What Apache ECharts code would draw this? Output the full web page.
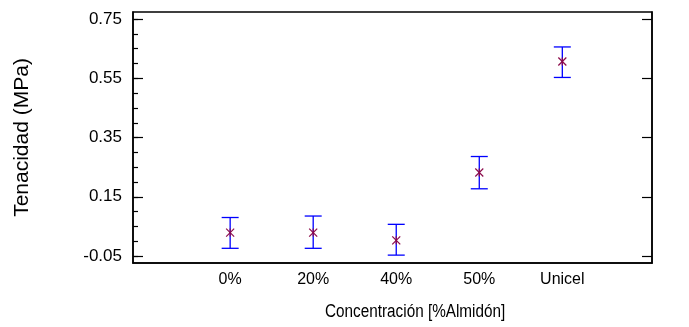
<!DOCTYPE html>
<html>
<head>
<meta charset="utf-8">
<script src="https://cdn.jsdelivr.net/npm/echarts@6/dist/echarts.min.js"></script>
<style>html,body{margin:0;padding:0;background:#fff}#c{width:689px;height:327px}</style>
</head>
<body>
<div id="c"></div>
<script>
var categories = ['0%', '20%', '40%', '50%', 'Unicel'];
var categoryPos = [1, 2, 3, 4, 5];
var means = [0.029, 0.029, 0.003, 0.232, 0.607];
var lower = [-0.024, -0.024, -0.047, 0.177, 0.553];
var upper = [0.080, 0.085, 0.057, 0.286, 0.656];
var yMajorTicks = [-0.05, 0.15, 0.35, 0.55, 0.75];
var yMinorTicks = [-0.05, 0, 0.05, 0.1, 0.15, 0.2, 0.25, 0.3, 0.35, 0.4, 0.45, 0.5, 0.55, 0.6, 0.65, 0.7, 0.75];
var xTitle = 'Concentración [%Almidón]';
var yTitle = 'Tenacidad (MPa)';

var font = 'Arial, "Liberation Sans", sans-serif';
var chart = echarts.init(document.getElementById('c'));

var data = categoryPos.map(function (x, i) { return [x, means[i], lower[i], upper[i]]; });

function renderItem(params, api) {
  var x = api.value(0);
  var c = api.coord([x, api.value(1)]);
  var lo = api.coord([x, api.value(2)]);
  var hi = api.coord([x, api.value(3)]);
  var hw = 8.5, s = 4;
  var blue = { stroke: '#0000ff', lineWidth: 1.3 };
  var mk = { stroke: '#8b0a4a', lineWidth: 1.2 };
  return {
    type: 'group',
    children: [
      { type: 'line', shape: { x1: lo[0], y1: lo[1], x2: hi[0], y2: hi[1] }, style: blue },
      { type: 'line', shape: { x1: hi[0] - hw, y1: hi[1], x2: hi[0] + hw, y2: hi[1] }, style: blue },
      { type: 'line', shape: { x1: lo[0] - hw, y1: lo[1], x2: lo[0] + hw, y2: lo[1] }, style: blue },
      { type: 'line', shape: { x1: c[0] - s, y1: c[1] - s, x2: c[0] + s, y2: c[1] + s }, style: mk },
      { type: 'line', shape: { x1: c[0] - s, y1: c[1] + s, x2: c[0] + s, y2: c[1] - s }, style: mk },
      { type: 'line', shape: { x1: c[0], y1: c[1] - s, x2: c[0], y2: c[1] + s }, style: mk }
    ]
  };
}

chart.setOption({
  animation: false,
  grid: { left: 133, top: 12, right: 37, bottom: 64, show: true, borderColor: '#000', borderWidth: 1.5, backgroundColor: 'transparent' },
  graphic: [{
    type: 'text', left: 415 - 90, top: 303,
    scaleX: 0.85,
    style: { text: xTitle, fill: '#000', fontSize: 18, fontFamily: font, textAlign: 'left', textVerticalAlign: 'middle' },
    x: 415, y: 313, originX: 0, originY: 0
  }],
  xAxis: {
    type: 'value', min: -0.17, max: 6.08,
    splitLine: { show: false },
    axisLine: { show: true, onZero: false, lineStyle: { color: '#000', width: 1.5 } },
    axisTick: { show: false },
    axisLabel: {
      customValues: categoryPos, margin: 9,
      formatter: function (v) { var i = categoryPos.indexOf(Math.round(v)); return i >= 0 ? categories[i] : ''; },
      color: '#000', fontSize: 16, fontFamily: font
    }
  },
  yAxis: [{
    type: 'value', min: -0.0736, max: 0.774, position: 'left',
    splitLine: { show: false },
    axisLine: { show: true, onZero: false, lineStyle: { color: '#000', width: 1.5 } },
    axisTick: { show: true, inside: true, length: 10, customValues: yMajorTicks, lineStyle: { color: '#000', width: 1.2 } },
    axisLabel: {
      customValues: yMajorTicks, margin: 11,
      formatter: function (v) { return v.toFixed(2); },
      color: '#000', fontSize: 17, fontFamily: font
    },
    name: yTitle, nameLocation: 'middle', nameGap: 100,
    nameTextStyle: { color: '#000', fontSize: 21, fontFamily: font }
  }, {
    type: 'value', min: -0.0736, max: 0.774, position: 'left',
    splitLine: { show: false },
    axisLine: { show: false, onZero: false },
    axisTick: { show: true, inside: true, length: 5, customValues: yMinorTicks, lineStyle: { color: '#000', width: 1.2 } },
    axisLabel: { show: false }
  }, {
    type: 'value', min: -0.0736, max: 0.774, position: 'right',
    splitLine: { show: false },
    axisLine: { show: true, onZero: false, lineStyle: { color: '#000', width: 1.5 } },
    axisTick: { show: true, inside: true, length: 10, customValues: yMajorTicks, lineStyle: { color: '#000', width: 1.2 } },
    axisLabel: { show: false }
  }],
  series: [{
    type: 'custom', renderItem: renderItem, data: data,
    encode: { x: 0, y: [1, 2, 3] }, clip: false
  }]
});
</script>
</body>
</html>
